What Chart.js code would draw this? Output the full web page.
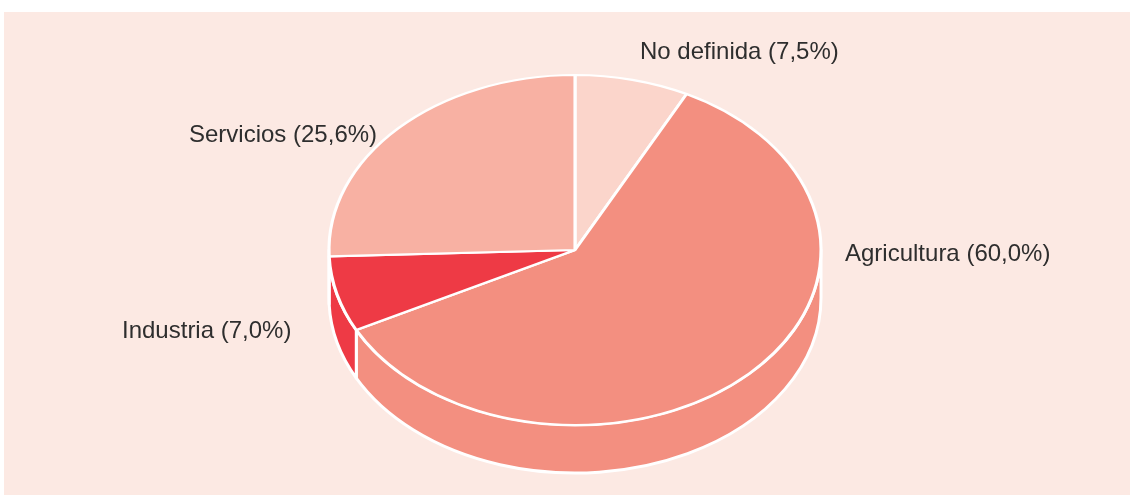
<!DOCTYPE html>
<html>
<head>
<meta charset="utf-8">
<script src="https://cdn.jsdelivr.net/npm/chart.js@4.4.1/dist/chart.umd.min.js"></script>
<style>
  html, body { margin: 0; padding: 0; background: #ffffff; }
  #box { position: relative; width: 1130px; height: 495px; }
</style>
</head>
<body>
<div id="box"><canvas id="chart"></canvas></div>
<script>
// datos (porcentaje del total)
const categorias = ['No definida', 'Agricultura', 'Industria', 'Servicios'];
const valores = [7.5, 60.0, 7.0, 25.6];
const colores = ['#fbd5cb', '#f38f80', '#ee3a45', '#f8b1a3'];

// posicion de las etiquetas (px de la pagina), mismo orden que categorias
const etiquetasPos = [[640, 59], [845, 261], [122, 338], [189, 142]];

// geometria del pastel 3D
const CX = 575, CY = 250, RX = 246, RY = 175, DEPTH = 48;
const BORDE = 3;

function etiqueta(i) {
    return categorias[i] + ' (' + valores[i].toFixed(1).replace('.', ',') + '%)';
}

const pie3d = {
    id: 'pie3d',
    beforeDraw(chart) {
        const ctx = chart.ctx;
        ctx.save();
        ctx.fillStyle = '#ffffff';
        ctx.fillRect(0, 0, chart.width, chart.height);
        ctx.fillStyle = '#fce9e3';
        ctx.fillRect(4, 12, chart.width - 4, chart.height - 12);
        ctx.restore();
    },
    beforeDatasetsDraw(chart) {
        const ctx = chart.ctx;
        const arcs = chart.getDatasetMeta(0).data;

        // paredes laterales (solo la mitad delantera es visible)
        ctx.save();
        ctx.strokeStyle = '#ffffff';
        ctx.lineWidth = BORDE;
        ctx.lineJoin = 'round';
        arcs.forEach((arc, i) => {
            const lo = Math.max(arc.startAngle, 0);
            const hi = Math.min(arc.endAngle, Math.PI);
            if (hi <= lo) return;
            ctx.beginPath();
            ctx.ellipse(CX, CY, RX, RY, 0, lo, hi, false);
            ctx.lineTo(CX + RX * Math.cos(hi), CY + RY * Math.sin(hi) + DEPTH);
            ctx.ellipse(CX, CY + DEPTH, RX, RY, 0, hi, lo, true);
            ctx.closePath();
            ctx.fillStyle = colores[i];
            ctx.fill();
            ctx.stroke();
        });
        ctx.restore();

        // cara superior: el pastel de Chart.js aplastado en elipse
        const a = arcs[0];
        const s = RX / a.outerRadius;
        ctx.save();
        ctx.translate(CX, CY);
        ctx.scale(s, s * RY / RX);
        ctx.translate(-a.x, -a.y);
    },
    afterDatasetsDraw(chart) {
        const ctx = chart.ctx;
        ctx.restore();

        ctx.save();
        ctx.fillStyle = '#2e2e2e';
        ctx.font = '24px "Liberation Sans", Arial, sans-serif';
        ctx.textAlign = 'left';
        ctx.textBaseline = 'alphabetic';
        categorias.forEach((c, i) => {
            ctx.fillText(etiqueta(i), etiquetasPos[i][0], etiquetasPos[i][1]);
        });
        ctx.restore();
    }
};

new Chart(document.getElementById('chart'), {
    type: 'pie',
    data: {
        labels: categorias,
        datasets: [{
            data: valores,
            backgroundColor: colores,
            borderColor: '#ffffff',
            borderWidth: BORDE,
            hoverOffset: 0
        }]
    },
    options: {
        responsive: true,
        maintainAspectRatio: false,
        animation: false,
        events: [],
        layout: { padding: 10 },
        plugins: {
            legend: { display: false },
            tooltip: { enabled: false }
        }
    },
    plugins: [pie3d]
});
</script>
</body>
</html>
